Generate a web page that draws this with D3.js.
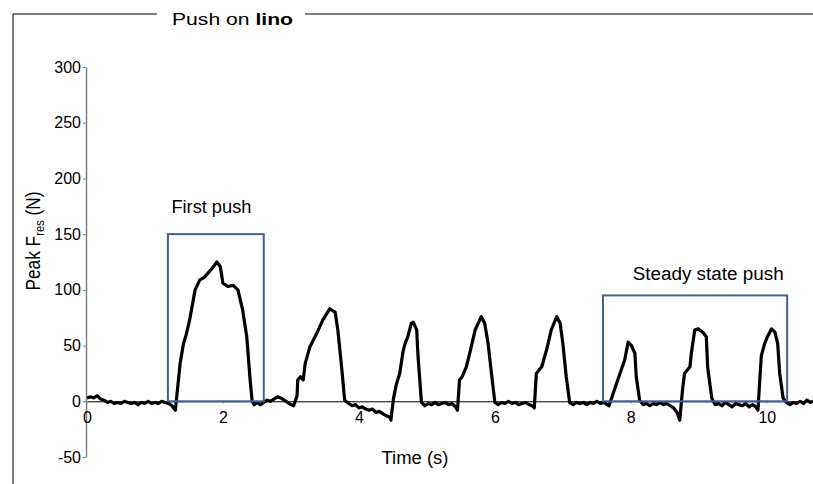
<!DOCTYPE html>
<html>
<head>
<meta charset="utf-8">
<script src="https://cdn.jsdelivr.net/npm/d3@7"></script>
<style>
    body { margin: 0; background: #fff; }
    text { font-family: "Liberation Sans", Arial, sans-serif; fill: #000; }
</style>
</head>
<body>
<div id="chart"></div>
<script>
// force trace (s, N)
var time = [
    0, 0.05, 0.1, 0.15, 0.2, 0.25, 0.3, 0.35, 0.4, 0.45, 0.5, 0.55, 0.6, 0.65, 0.7, 0.75, 0.8, 0.85, 0.9, 0.95, 1.0, 1.05, 1.1, 1.15, 1.2, 1.25, 1.3,
    1.37, 1.42, 1.46, 1.51, 1.59, 1.66, 1.72, 1.78, 1.85, 1.91, 1.96, 2.0, 2.07, 2.15, 2.22, 2.29, 2.35, 2.4, 2.43,
    2.46, 2.5, 2.55, 2.6, 2.65, 2.7, 2.75, 2.8, 2.85, 2.9, 2.95, 3.0, 3.04,
    3.09, 3.1, 3.14, 3.18, 3.21, 3.28, 3.38, 3.47, 3.57, 3.65, 3.69, 3.75, 3.79,
    3.85, 3.9, 3.95, 4.0, 4.05, 4.1, 4.15, 4.2, 4.25, 4.3, 4.35, 4.4, 4.45, 4.47,
    4.51, 4.55, 4.6, 4.65, 4.68, 4.72, 4.77, 4.8, 4.85, 4.87, 4.92,
    4.97, 5.02, 5.07, 5.12, 5.17, 5.22, 5.27, 5.32, 5.37, 5.42, 5.45,
    5.48, 5.52, 5.58, 5.63, 5.71, 5.8, 5.85, 5.9, 5.95, 6.0,
    6.05, 6.1, 6.15, 6.2, 6.25, 6.3, 6.35, 6.4, 6.45, 6.5, 6.55, 6.58,
    6.61, 6.69, 6.76, 6.83, 6.91, 6.96, 7.0, 7.05, 7.1,
    7.15, 7.2, 7.25, 7.3, 7.35, 7.4, 7.45, 7.5, 7.55, 7.6, 7.65, 7.68,
    7.74, 7.84, 7.91, 7.96, 8.01, 8.06, 8.08, 8.13,
    8.18, 8.23, 8.28, 8.33, 8.38, 8.43, 8.48, 8.53, 8.58, 8.63, 8.68, 8.72,
    8.76, 8.79, 8.87, 8.89, 8.94, 8.99, 9.06, 9.11, 9.13, 9.19,
    9.24, 9.29, 9.34, 9.39, 9.44, 9.49, 9.54, 9.59, 9.64, 9.69, 9.74, 9.79, 9.84, 9.87,
    9.9, 9.92, 9.97, 10.01, 10.07, 10.12, 10.16, 10.19, 10.24,
    10.29, 10.34, 10.39, 10.44, 10.49, 10.54, 10.59, 10.64, 10.68
];
var force = [
    3, 4, 3, 5, 2, 1, -1, 0, -2, -1, -2, 0, -1, -2, -1, -3, -1, -2, 0, -2, -1, -2, 0, -1, -2, -4, -8,
    34, 52, 60, 73, 100, 109, 111, 115, 120, 125, 121, 106, 103, 104, 100, 82, 58, 19, 0,
    -3, -1, -3, -1, 1, 0, 2, 4, 3, 1, -1, -3, -4,
    5, 19, 22, 19, 34, 49, 61, 73, 83, 80, 64, 28, 1,
    -2, -4, -3, -6, -5, -7, -8, -7, -10, -9, -11, -13, -14, -17,
    3, 15, 25, 45, 52, 58, 70, 71, 64, 40, -1,
    -4, -2, -3, -1, -3, -2, -1, -3, -2, -5, -8,
    19, 22, 31, 43, 64, 76, 70, 52, 25, -1,
    -3, -1, -2, 0, -2, -1, -3, -2, -1, -3, -4, -6,
    25, 31, 46, 64, 76, 70, 52, 22, -1,
    -3, -1, -2, -1, -3, -1, -2, 0, -2, -1, -3, -4,
    7, 25, 37, 53, 50, 43, 22, 1,
    -3, -2, -4, -2, -3, -1, -3, -2, -4, -6, -10, -17,
    10, 25, 31, 43, 64, 65, 62, 58, 31, 3,
    -3, -2, -4, -1, -3, -5, -2, -3, -4, -2, -5, -3, -5, -8,
    22, 41, 52, 58, 65, 62, 52, 25, 3,
    -1, -3, -1, -2, 0, -2, 1, -1, 0
];

var xTicks = [0, 2, 4, 6, 8, 10];
var yTicks = [-50, 0, 50, 100, 150, 200, 250, 300];

// highlighted windows
var boxLabels = ["First push", "Steady state push"];
var boxStart = [1.19, 7.59];
var boxEnd = [2.6, 10.3];
var boxTop = [150, 95];

var width = 813, height = 484;

var svg = d3.select("#chart").append("svg")
    .attr("width", width)
    .attr("height", height);

var x = d3.scaleLinear().domain([0, 10.68]).range([87, 813]);
var y = d3.scaleLinear().domain([-50, 300]).range([457, 67]);

// frame round the panel
svg.append("path")
    .attr("d", "M13,484V14H157M305,14H813")
    .attr("fill", "none")
    .attr("stroke", "#000")
    .attr("stroke-width", 1);

var title = svg.append("text")
    .attr("x", 172)
    .attr("y", 25)
    .attr("font-size", 17)
    .attr("textLength", 121)
    .attr("lengthAdjust", "spacingAndGlyphs");
title.append("tspan").text("Push on ");
title.append("tspan").attr("font-weight", "bold").text("lino");

// plain hyphen for negatives, as in the original
var fmt = function (d) { return String(d); };

// y axis
var yAxis = svg.append("g")
    .attr("transform", "translate(86,0)")
    .call(d3.axisLeft(y).tickValues(yTicks).tickFormat(fmt).tickSize(3).tickSizeOuter(0).tickPadding(2));
yAxis.select(".domain").attr("stroke", "#808080").attr("stroke-width", 1.5);
yAxis.selectAll(".tick line").attr("stroke", "#808080");
yAxis.selectAll("text").attr("font-size", 16).attr("font-family", "Liberation Sans, Arial, sans-serif");

// x axis sits on zero
var xAxis = svg.append("g")
    .attr("transform", "translate(0," + y(0) + ")")
    .call(d3.axisBottom(x).tickValues(xTicks).tickFormat(fmt).tickSize(2).tickSizeOuter(0).tickPadding(8));
xAxis.select(".domain").attr("stroke", "#000").attr("stroke-width", 1);
xAxis.selectAll(".tick line").attr("stroke", "#808080");
xAxis.selectAll("text").attr("font-size", 16).attr("font-family", "Liberation Sans, Arial, sans-serif");

// axis titles
var yLab = svg.append("text")
    .attr("transform", "translate(40,241) rotate(-90)")
    .attr("text-anchor", "middle")
    .attr("font-size", 20)
    .attr("textLength", 99)
    .attr("lengthAdjust", "spacingAndGlyphs");
yLab.append("tspan").text("Peak F");
yLab.append("tspan").attr("font-size", 13).attr("dy", 4).text("res");
yLab.append("tspan").attr("dy", -4).text(" (N)");

svg.append("text")
    .attr("x", 415)
    .attr("y", 464)
    .attr("text-anchor", "middle")
    .attr("font-size", 18)
    .attr("textLength", 67)
    .attr("lengthAdjust", "spacingAndGlyphs")
    .text("Time (s)");

// trace
var pts = time.map(function (t, i) { return [t, force[i]]; });
var line = d3.line()
    .x(function (d) { return x(d[0]); })
    .y(function (d) { return y(d[1]); });

svg.append("path")
    .datum(pts)
    .attr("d", line)
    .attr("fill", "none")
    .attr("stroke", "#000")
    .attr("stroke-width", 3.2)
    .attr("stroke-linejoin", "round");

// boxes
svg.selectAll(".box")
    .data(boxLabels).enter()
    .append("rect")
    .attr("class", "box")
    .attr("x", function (d, i) { return x(boxStart[i]); })
    .attr("y", function (d, i) { return y(boxTop[i]); })
    .attr("width", function (d, i) { return x(boxEnd[i]) - x(boxStart[i]); })
    .attr("height", function (d, i) { return y(0) - y(boxTop[i]); })
    .attr("fill", "none")
    .attr("stroke", "#3f6190")
    .attr("stroke-width", 2);

var labelDx = [3.5, 29.7], labelDy = [-21.5, -15.5], labelLen = [80, 151];
svg.selectAll(".box-label")
    .data(boxLabels).enter()
    .append("text")
    .attr("class", "box-label")
    .attr("x", function (d, i) { return x(boxStart[i]) + labelDx[i]; })
    .attr("y", function (d, i) { return y(boxTop[i]) + labelDy[i]; })
    .attr("font-size", 18)
    .attr("textLength", function (d, i) { return labelLen[i]; })
    .attr("lengthAdjust", "spacingAndGlyphs")
    .text(function (d) { return d; });
</script>
</body>
</html>
